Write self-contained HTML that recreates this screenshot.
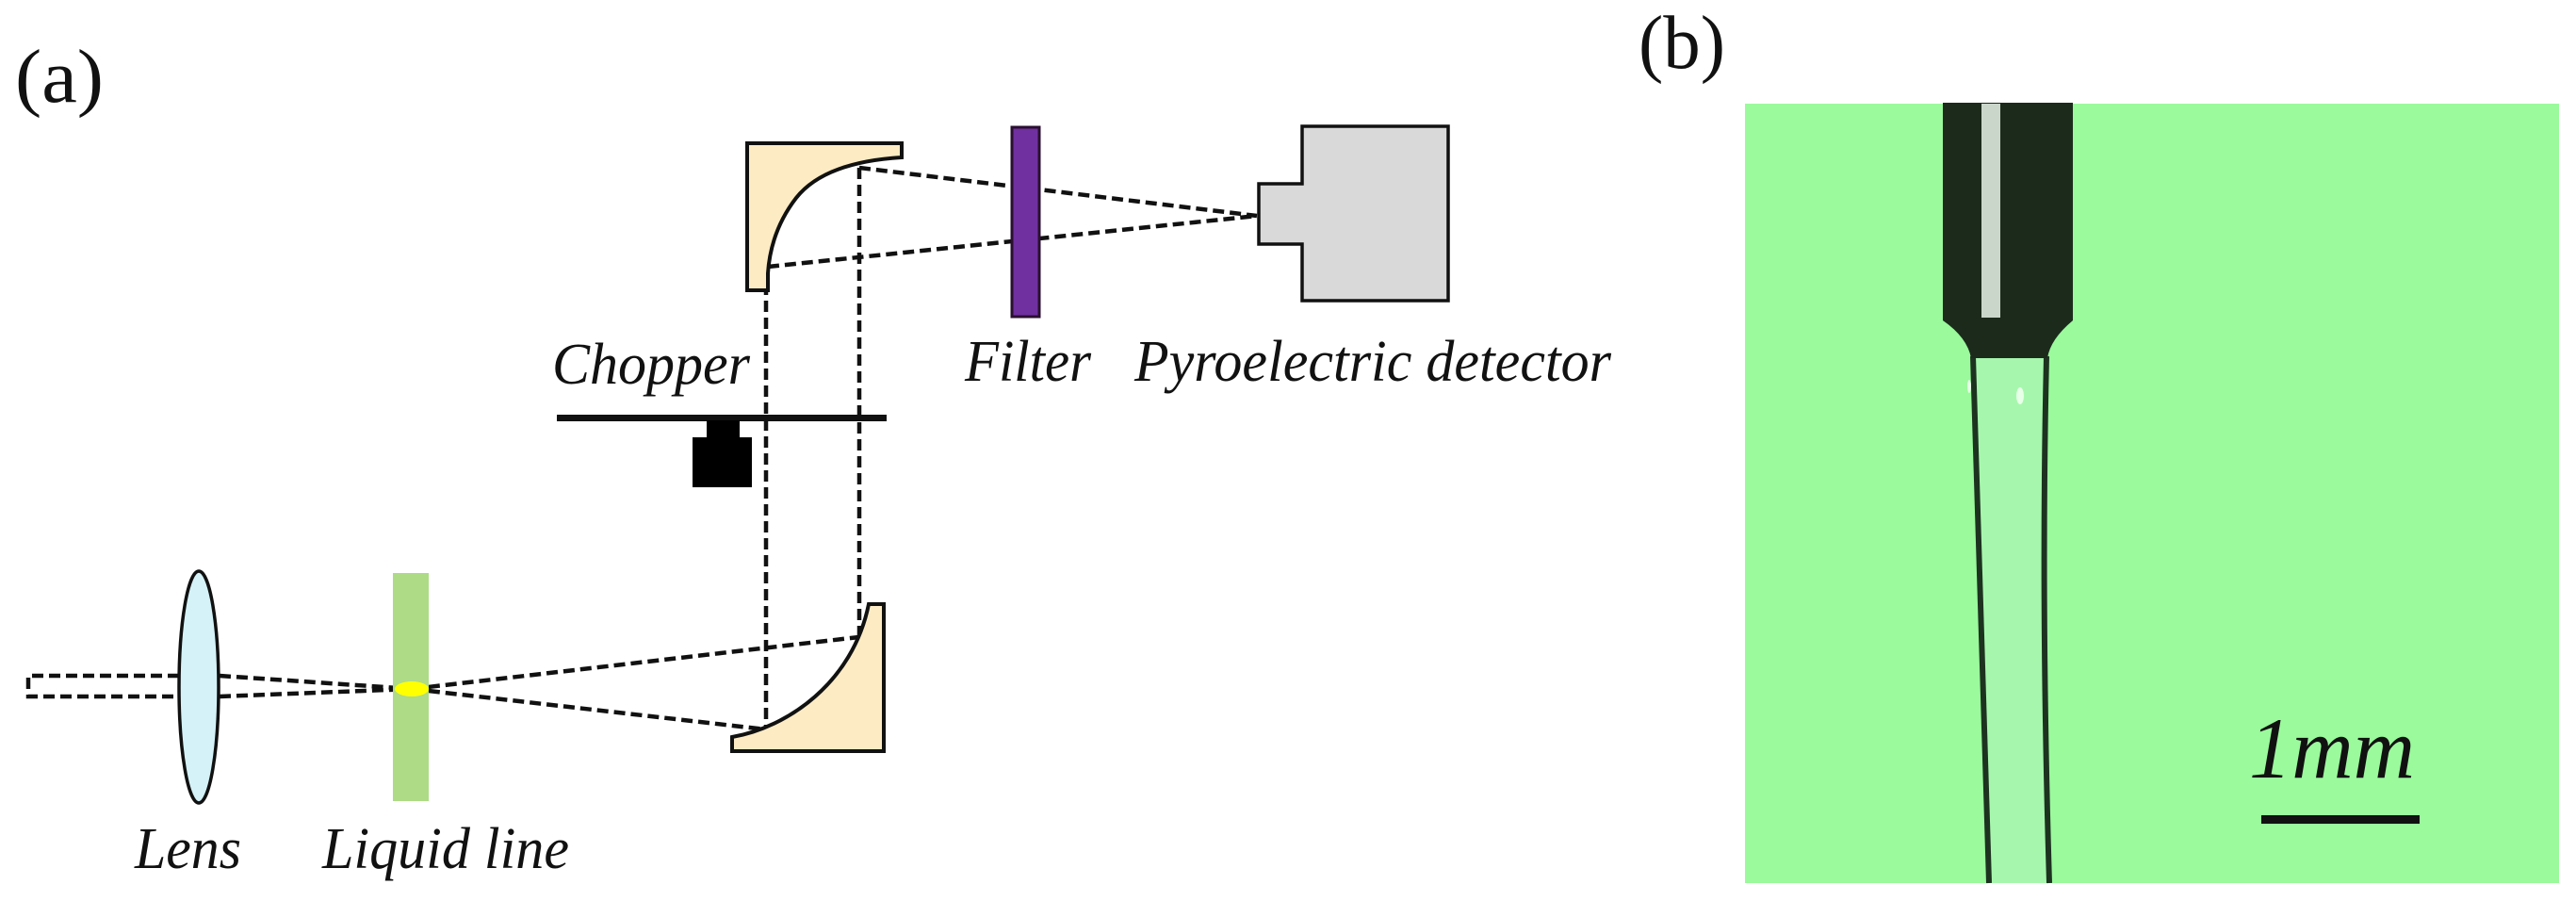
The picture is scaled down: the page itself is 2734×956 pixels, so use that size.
<!DOCTYPE html>
<html><head><meta charset="utf-8"><style>
html,body{margin:0;padding:0;background:#fff;}
svg{display:block;}
.s{font-family:"Liberation Serif","DejaVu Serif","Times New Roman",serif;}
</style></head><body>
<svg width="2734" height="956" viewBox="0 0 2734 956" xmlns="http://www.w3.org/2000/svg">
<rect width="2734" height="956" fill="#fff"/>

<!-- dashed rays -->
<g stroke="#111" stroke-width="4.5" fill="none" stroke-dasharray="12,6">
<path d="M190,717 L30,717 L30,739 L190,739"/>
<line x1="233" y1="717" x2="437" y2="731"/>
<line x1="233" y1="739" x2="437" y2="731"/>
<line x1="437" y1="731" x2="920" y2="675"/>
<line x1="437" y1="731" x2="813" y2="774"/>
<line x1="813" y1="283" x2="813" y2="774"/>
<line x1="912" y1="178" x2="912" y2="675"/>
<line x1="912" y1="178" x2="1334" y2="229"/>
<line x1="815" y1="283" x2="1334" y2="229"/>
</g>

<ellipse cx="211" cy="729" rx="21" ry="123" fill="#d4f2f8" stroke="#111" stroke-width="3.5"/>
<rect x="417" y="608" width="38" height="242" fill="#addb86"/>
<ellipse cx="437" cy="731" rx="18" ry="8" fill="#ffff00"/>

<path d="M793,152 L957,152 L957,167 Q875,172 845,210 Q818,245 815,290 L815,308 L793,308 Z" fill="#fdebc4" stroke="#111" stroke-width="4"/>
<path d="M922,641 L938,641 L938,797 L777,797 L777,782 C835,772 905,725 922,641 Z" fill="#fdebc4" stroke="#111" stroke-width="4"/>

<rect x="591" y="440" width="350" height="7" fill="#111"/>
<rect x="750" y="446" width="35" height="20" fill="#000"/>
<rect x="735" y="464" width="63" height="53" fill="#000"/>

<rect x="1074" y="135" width="29" height="201" fill="#7030a0" stroke="#2a1030" stroke-width="3"/>
<path d="M1382,134 L1537,134 L1537,319 L1382,319 L1382,259 L1336,259 L1336,195 L1382,195 Z" fill="#d9d9d9" stroke="#111" stroke-width="3.5"/>

<rect x="1852" y="110" width="864" height="827" fill="#9afa9c"/>
<path d="M2095,378 L2111,937 L2175,937 L2172,378 Z" fill="#a6f7ad"/>
<path d="M2094,378 Q2100,600 2111,937" stroke="#1d3320" stroke-width="6" fill="none"/>
<path d="M2172,378 Q2166,640 2175,937" stroke="#1d3320" stroke-width="6" fill="none"/>
<path d="M2062,109 L2200,109 L2200,340 Q2176,360 2173,380 L2092,380 Q2088,358 2062,340 Z" fill="#1c2a1c"/>
<rect x="2103" y="110" width="20" height="227" fill="#e8f5e8" opacity="0.85"/>
<ellipse cx="2144" cy="420" rx="4" ry="9" fill="#e8ffe8"/>
<ellipse cx="2090" cy="410" rx="2" ry="7" fill="#e8ffe8"/>
<rect x="2400" y="865" width="168" height="9" fill="#111"/>

<g class="s" fill="#111">
<text x="16" y="108" font-size="80" textLength="94" lengthAdjust="spacingAndGlyphs">(a)</text>
<text x="1739" y="72" font-size="80" textLength="92" lengthAdjust="spacingAndGlyphs">(b)</text>
<g font-style="italic" font-size="62">
<text x="586" y="407" textLength="210" lengthAdjust="spacingAndGlyphs">Chopper</text>
<text x="1024" y="404" textLength="134" lengthAdjust="spacingAndGlyphs">Filter</text>
<text x="1204" y="404" textLength="506" lengthAdjust="spacingAndGlyphs">Pyroelectric detector</text>
<text x="143" y="921" textLength="113" lengthAdjust="spacingAndGlyphs">Lens</text>
<text x="342" y="921" textLength="262" lengthAdjust="spacingAndGlyphs">Liquid line</text>
</g>
<text x="2387" y="825" font-size="92" font-style="italic" textLength="176" lengthAdjust="spacingAndGlyphs">1mm</text>
</g>
</svg>
</body></html>
